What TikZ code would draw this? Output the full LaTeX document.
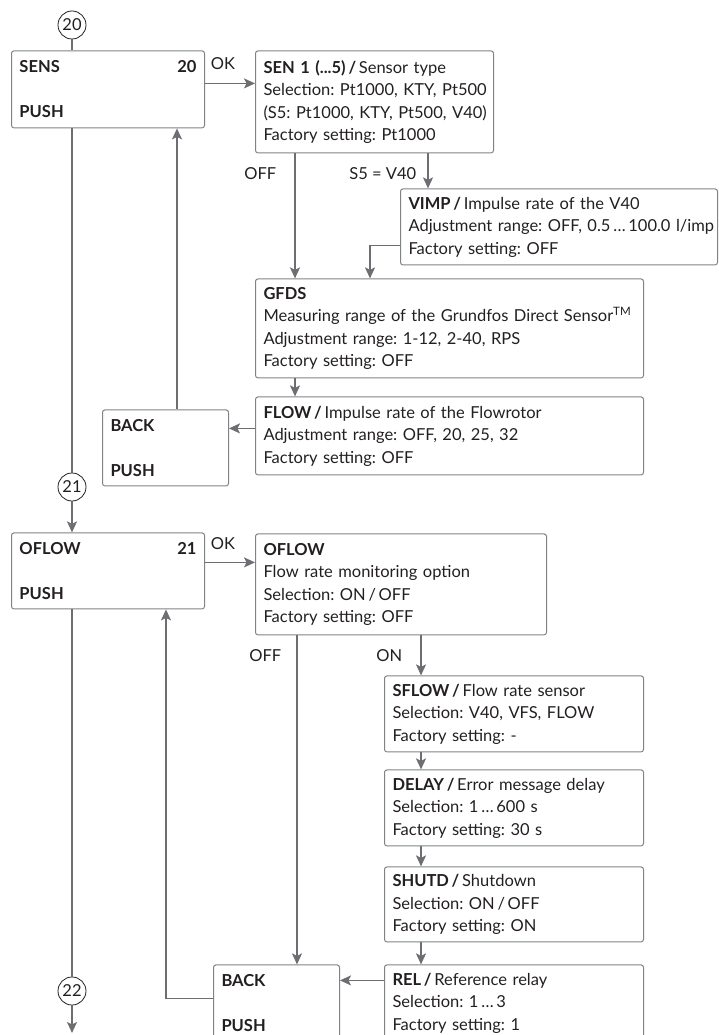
\documentclass[tikz,border=0pt]{standalone}
\usepackage{fontspec}
\setmainfont{Lato}
\usetikzlibrary{shapes,arrows.meta,positioning,calc}

\definecolor{linegray}{HTML}{6D6E71}
\definecolor{boxgray}{HTML}{808285}
\definecolor{textdark}{HTML}{231F20}
\frenchspacing

\begin{document}
\begin{tikzpicture}[
  x=1pt, y=1pt,
  font=\fontsize{16.5}{22.5}\selectfont,
  menu/.style={rectangle, draw=boxgray, line width=1pt, rounded corners=2.5pt, text=textdark, align=left, inner xsep=8pt, inner ysep=0pt},
  box/.style 2 args={menu, text width=#1, minimum height=#2},
  num/.style={circle, draw=textdark, line width=0.8pt, minimum size=28pt, inner sep=0pt, text=textdark},
  lbl/.style={text=textdark, inner sep=0pt},
  line/.style={draw=linegray, line width=1.5pt},
  arrow/.style={-{Stealth[length=11pt, width=10pt, inset=2.5pt]}, draw=linegray, line width=1.5pt}
]
  \useasboundingbox (0,0) rectangle (718,-1035);

  % menu 20
  \node[num] (c20) at (72,-25) {20};
  \node[box={177pt}{77pt}, below right=11pt and -61pt of c20.south] (sens) {\textbf{SENS}\hfill\textbf{20}\\[22.5pt]\textbf{PUSH}};
  \node[box={222pt}{102pt}, below right=0pt and 50pt of sens.north east] (sen) {\mbox{\textbf{SEN 1 (...5)\,/}\,Sensor type}\\\mbox{Selection: Pt1000, KTY, Pt500}\\\mbox{(S5: Pt1000, KTY, Pt500, V40)}\\\mbox{Factory setting: Pt1000}};
  \node[box={301pt}{76pt}, below right=35pt and 145pt of sen.south west] (vimp) {\textbf{VIMP\,/}\,Impulse rate of the V40\\\mbox{Adjustment range: OFF, 0.5\,…\,100.0 l/imp}\\Factory setting: OFF};
  \node[box={372pt}{99pt}, below right=125pt and 0pt of sen.south west] (gfds) {\textbf{GFDS}\\\mbox{Measuring range of the Grundfos Direct Sensor\textsuperscript{TM}}\\Adjustment range: 1-12, 2-40, RPS\\Factory setting: OFF};
  \node[box={372pt}{78pt}, below right=18pt and 0pt of gfds.south west] (flow) {\textbf{FLOW\,/}\,Impulse rate of the Flowrotor\\Adjustment range: OFF, 20, 25, 32\\Factory setting: OFF};
  \node[box={110pt}{76pt}, below left=13pt and 26pt of flow.north west] (back1) {\textbf{BACK}\\[22.5pt]\textbf{PUSH}};

  % menu 21
  \node[num] (c21) at (72,-487) {21};
  \node[box={177pt}{76pt}, below right=31pt and -61pt of c21.south] (oflow1) {\textbf{OFLOW}\hfill\textbf{21}\\[22.5pt]\textbf{PUSH}};
  \node[box={275pt}{101pt}, below right=1pt and 50pt of oflow1.north east] (oflow2) {\textbf{OFLOW}\\Flow rate monitoring option\\Selection: ON\,/\,OFF\\Factory setting: OFF};
  \node[box={243pt}{76pt}, below right=40pt and 129pt of oflow2.south west] (sflow) {\textbf{SFLOW\,/}\,Flow rate sensor\\Selection: V40, VFS, FLOW\\Factory setting: -};
  \node[box={243pt}{76pt}, below right=17pt and 0pt of sflow.south west] (delay) {\textbf{DELAY\,/}\,Error message delay\\Selection: 1\,…\,600 s\\Factory setting: 30 s};
  \node[box={243pt}{75pt}, below right=20pt and 0pt of delay.south west] (shutd) {\textbf{SHUTD\,/}\,Shutdown\\Selection: ON\,/\,OFF\\Factory setting: ON};
  \node[box={243pt}{76pt}, below right=22pt and 0pt of shutd.south west] (rel) {\textbf{REL\,/}\,Reference relay\\Selection: 1\,…\,3\\Factory setting: 1};
  \node[box={110pt}{76pt}, below left=0pt and 44pt of rel.north west] (back2) {\textbf{BACK}\\[22.5pt]\textbf{PUSH}};
  \node[num] (c22) at (72,-991) {22};
  \coordinate (end) at (72,-1033);

  % connectors 20
  \coordinate[below=33pt of sens.north east] (sensok);
  \coordinate[right=40pt of sen.south west] (senoff);
  \coordinate[right=28pt of vimp.north west] (vimpin);
  \coordinate[above=20pt of vimp.south west] (vimpout);
  \coordinate[right=115pt of gfds.north west] (gfdsin);
  \coordinate[below=32pt of flow.north west] (flowout);
  \coordinate[right=75pt of back1.north west] (backup);
  \draw[line] (c20) -- (c20 |- sens.north);
  \draw[arrow] (sensok) -- (sensok -| sen.west) node[lbl, above=13pt, pos=0.36] {OK};
  \draw[arrow] (senoff) -- (senoff |- gfds.north) node[lbl, left=18pt, pos=0.16] {OFF};
  \draw[arrow] (vimpin |- sen.south) -- (vimpin) node[lbl, left=11pt, pos=0.57] {S5 = V40};
  \draw[arrow] (vimpout) -| (gfdsin);
  \draw[arrow] (senoff |- gfds.south) -- (senoff |- flow.north);
  \draw[arrow] (flowout) -- (flowout -| back1.east);
  \draw[arrow] (backup) -- (backup |- sens.south);
  \draw[line] (c21 |- sens.south) -- (c21);

  % connectors 21
  \coordinate[below=30pt of oflow1.north east] (oflowok);
  \coordinate[right=42pt of oflow2.south west] (oflowoff);
  \coordinate[right=37pt of sflow.north west] (sflowin);
  \coordinate[below=16pt of rel.north west] (relout);
  \coordinate[below=34pt of back2.north west] (back2out);
  \coordinate[right=155pt of oflow1.south west] (oflowup);
  \draw[arrow] (c21) -- (c21 |- oflow1.north);
  \draw[arrow] (oflowok) -- (oflowok -| oflow2.west) node[lbl, above=12pt, pos=0.36] {OK};
  \draw[arrow] (oflowoff) -- (oflowoff |- back2.north) node[lbl, left=15pt, pos=0.06] {OFF};
  \draw[arrow] (sflowin |- oflow2.south) -- (sflowin) node[lbl, left=18pt, pos=0.5] {ON};
  \draw[arrow] (sflowin |- sflow.south) -- (sflowin |- delay.north);
  \draw[arrow] (sflowin |- delay.south) -- (sflowin |- shutd.north);
  \draw[arrow] (sflowin |- shutd.south) -- (sflowin |- rel.north);
  \draw[arrow] (relout) -- (relout -| back2.east);
  \draw[arrow] (back2out) -| (oflowup);
  \draw[line] (c22 |- oflow1.south) -- (c22);
  \draw[arrow] (c22) -- (end);
\end{tikzpicture}
\end{document}
